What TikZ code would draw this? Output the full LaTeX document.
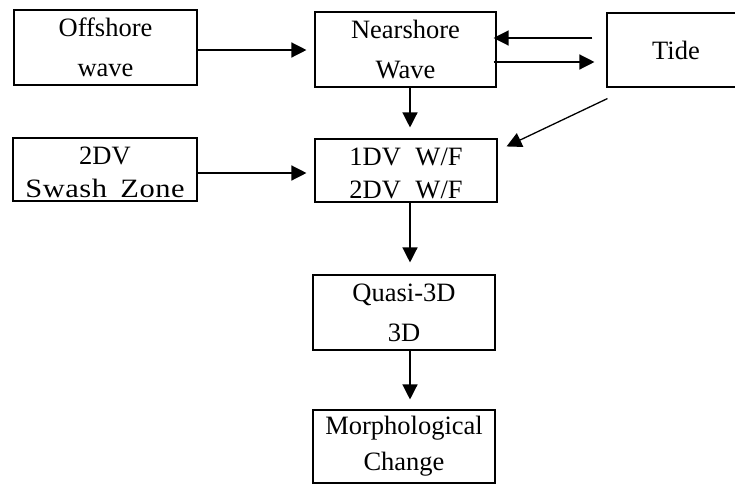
\documentclass[tikz,border=0pt]{standalone}
\usepackage{fontspec}
\setmainfont{Liberation Serif}
\usetikzlibrary{arrows.meta,calc}
\begin{document}
\begin{tikzpicture}[x=1pt,y=-1pt,
  box/.style={draw,line width=1.1pt,rectangle,inner sep=0pt,align=center,
              font=\fontsize{26.5}{40}\selectfont},
  lowbox/.style={box,font=\fontsize{26.5}{33}\selectfont,text height=59pt,text depth=4pt},
  arr/.style={line width=1.3pt,-{Triangle[length=15pt,width=15pt]}}]
\useasboundingbox (0,0) rectangle (735,485);

% boxes
\node[box,minimum width=183,minimum height=75] (off) at (105.5,47.5) {Offshore\\wave};
\node[box,minimum width=181,minimum height=75] (near) at (405.5,49.5) {Nearshore\\Wave};
\node[box,minimum width=138,minimum height=74] (tide) at (676,50) {Tide};
\node[lowbox,minimum width=184] (sw) at (105,169.5)
  {2DV\\{\addfontfeatures{FakeStretch=1.15,LetterSpace=2}Swash\hspace{0.2em} Zone}};
\node[lowbox,minimum width=182] (wf) at (406,170.5) {1DV\hspace{0.55em}W/F\\2DV\hspace{0.55em}W/F};
\node[box,minimum width=182,minimum height=75] (q) at (404,312.5) {Quasi-3D\\3D};
\node[box,minimum width=182,minimum height=73,font=\fontsize{26.5}{36}\selectfont] (m) at (404,446.5) {Morphological\\Change};

% connectors
\draw[arr] ($(off.east)+(0,2.5)$) -- ($(near.west)+(-8,0.5)$);
\draw[arr] ($(tide.west)+(-14,-12)$) -- ($(near.east)+(-3,-11.5)$);
\draw[arr] ($(near.east)+(-3,12.5)$) -- ($(tide.west)+(-12,12)$);
\draw[arr] ($(near.south)+(4.5,0)$) -- ($(wf.north)+(4,-11)$);
\draw[arr] ($(tide.south west)+(1,11)$) -- ($(wf.north east)+(9,8)$);
\draw[arr] ($(sw.east)+(0,3.5)$) -- ($(wf.west)+(-8,2.5)$);
\draw[arr] ($(wf.south)+(4,0)$) -- ($(q.north)+(6,-12)$);
\draw[arr] ($(q.south)+(6,0)$) -- ($(m.north)+(6,-10)$);
\end{tikzpicture}
\end{document}
